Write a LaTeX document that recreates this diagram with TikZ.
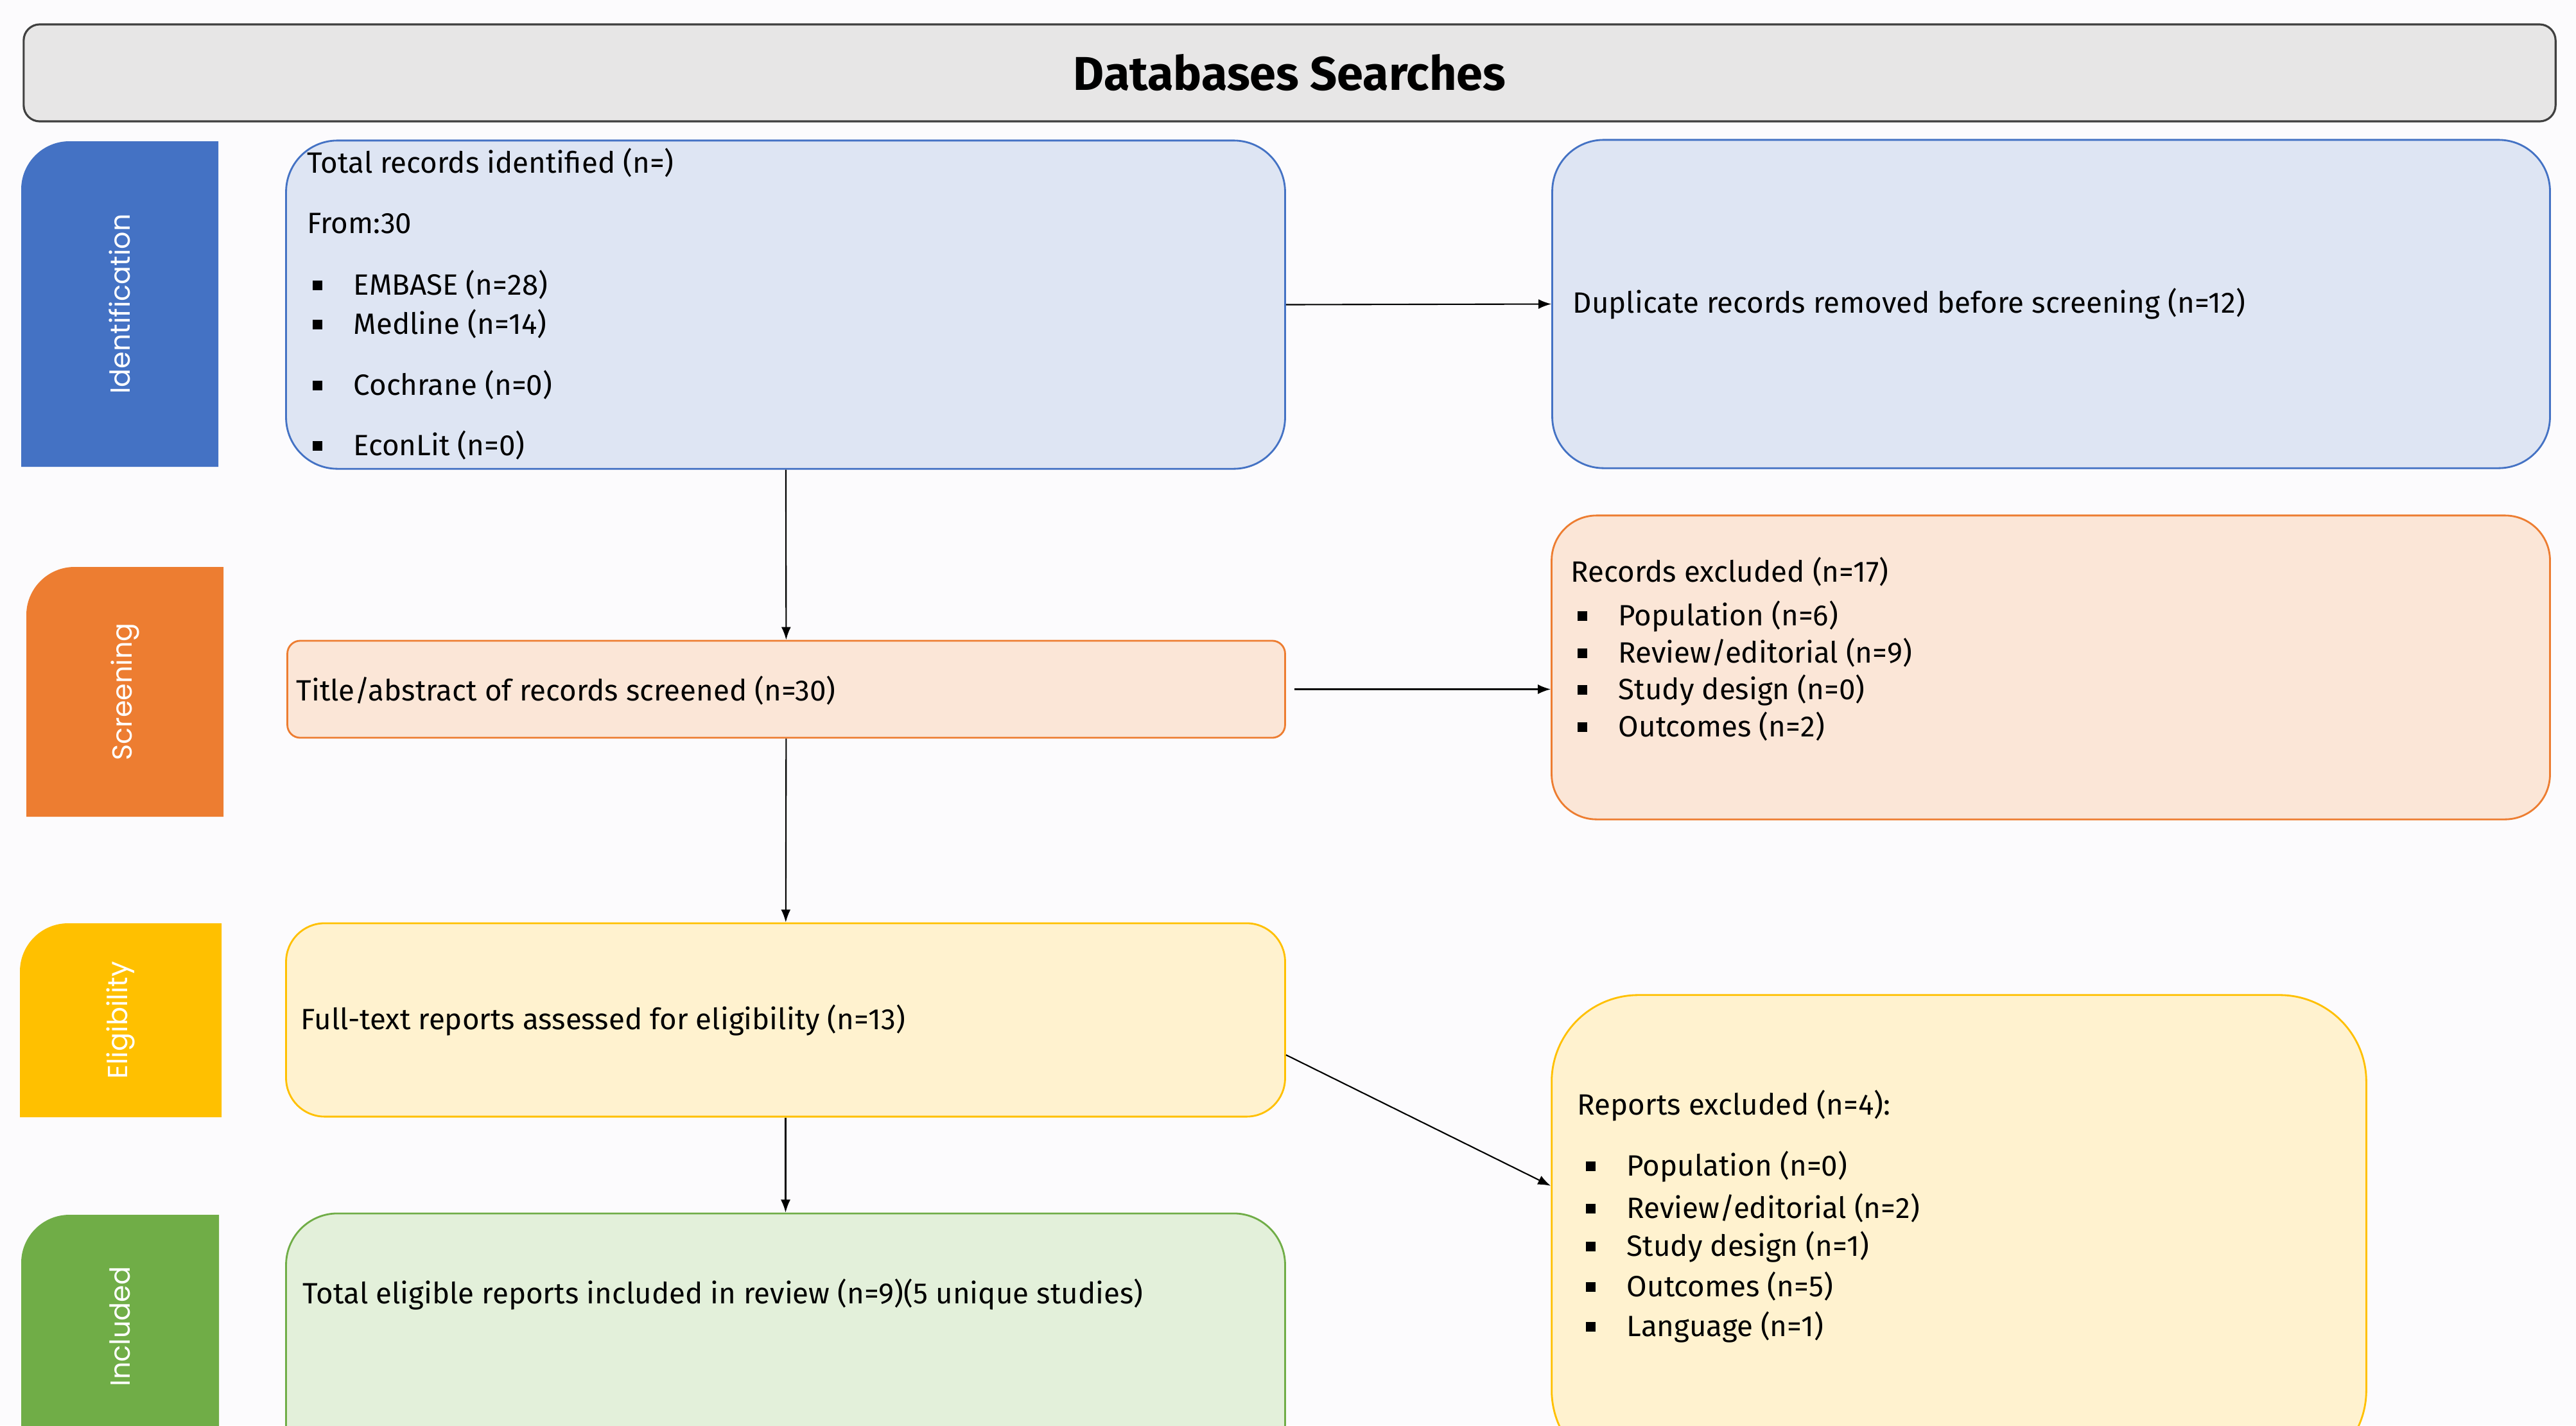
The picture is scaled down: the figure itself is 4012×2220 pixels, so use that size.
\documentclass[tikz,border=0pt]{standalone}
\usepackage{fontspec}
\setmainfont{Fira Sans}
\newfontfamily\sidefont{Poppins}
\usetikzlibrary{arrows.meta}

\definecolor{pagebg}{HTML}{FCFBFD}
\definecolor{titlefill}{HTML}{E7E6E6}
\definecolor{titledraw}{HTML}{404040}
\definecolor{idblue}{HTML}{4472C4}
\definecolor{idfill}{HTML}{DEE5F3}
\definecolor{scorange}{HTML}{ED7D31}
\definecolor{scfill}{HTML}{FBE6D7}
\definecolor{elgold}{HTML}{FFC000}
\definecolor{elfill}{HTML}{FFF2CF}
\definecolor{ingreen}{HTML}{70AD47}
\definecolor{infill}{HTML}{E3F0DA}

\newcommand{\sqitem}[1]{\rule[0.3ex]{0.15cm}{0.15cm}\hspace{0.49cm}#1}

\tikzset{
  every box/.style={draw, line width=0.8pt, inner sep=0pt},
  box id/.style={every box, draw=idblue, fill=idfill},
  box sc/.style={every box, draw=scorange, fill=scfill},
  box el/.style={every box, draw=elgold, fill=elfill},
  box in/.style={every box, draw=ingreen, fill=infill},
  row text/.style={anchor=west, inner sep=0pt, font=\fontsize{13}{15}\selectfont},
  side text/.style={rotate=90, text=white, font=\sidefont\fontsize{12.2}{14}\selectfont},
}

\begin{document}
\begin{tikzpicture}[x=0.01cm, y=-0.01cm, >={Latex[length=0.2cm, width=0.15cm]}]

\useasboundingbox (0,0) rectangle (4012,2220);
\clip (0,0) rectangle (4012,2220);
\fill [pagebg] (0,0) rectangle (4012,2220);

% header
\node [draw=titledraw, fill=titlefill, line width=0.9pt, rounded corners=0.25cm,
  minimum width=39.41cm, minimum height=1.51cm,
  font=\bfseries\fontsize{21}{24}\selectfont] (header) at (2008.5,113.5) {Databases Searches};

% side bars
\foreach \x/\ya/\xb/\yb/\c/\l in {33/220/340/727/idblue/Identification,
    41/883/348/1272/scorange/Screening,
    31/1438/345/1740/elgold/Eligibility,
    33/1892/341/2240/ingreen/Included}
{
  \fill [\c] (\x,\yb) [rounded corners=0.75cm] -- (\x,\ya) [sharp corners] -- (\xb,\ya) -- (\xb,\yb) -- cycle;
  \node [side text] (side-\l) at ({(\x+\xb)/2},{(\ya+\yb)/2}) {\l};
}

% left column
\node [box id, rounded corners=0.8cm, minimum width=15.55cm, minimum height=5.11cm] (ident) at (1223.5,474.5) {};
\node [box sc, rounded corners=0.2cm, minimum width=15.53cm, minimum height=1.51cm] (screen) at (1224.5,1073.5) {};
\node [box el, rounded corners=0.6cm, minimum width=15.55cm, minimum height=3.01cm] (elig) at (1223.5,1588.5) {};
\node [box in, rounded corners=0.8cm, minimum width=15.55cm, minimum height=4.1cm] (incl) at (1223.5,2095) {};

% right column
\node [box id, rounded corners=0.8cm, minimum width=15.53cm, minimum height=5.11cm] (dup) at (3194.5,473.5) {};
\node [box sc, rounded corners=0.7cm, minimum width=15.54cm, minimum height=4.73cm] (recx) at (3194,1039.5) {};
\node [box el, rounded corners=1.35cm, minimum width=12.68cm, minimum height=7.5cm] (repx) at (3051,1925) {};

% identification labeling
\foreach \t/\yy in {{Total records identified (n=)}/253, {From:30}/348}
  \node [row text] at (478,\yy) {\t};
\foreach \t/\yy in {{EMBASE (n=28)}/443, {Medline (n=14)}/504, {Cochrane (n=0)}/599, {EconLit (n=0)}/693}
  \node [row text] at (486,\yy) {\sqitem{\t}};
\node [row text] at (2449,473) {Duplicate records removed before screening (n=12)};

% screening labeling
\node [row text] at (461,1075) {Title/abstract of records screened (n=30)};
\node [row text] at (2446,890) {Records excluded (n=17)};
\foreach \t/\yy in {{Population (n=6)}/960, {Review/editorial (n=9)}/1016, {Study design (n=0)}/1075, {Outcomes (n=2)}/1131}
  \node [row text] at (2456,\yy) {\sqitem{\t}};

% eligibility labeling
\node [row text] at (468,1589) {Full-text reports assessed for eligibility (n=13)};
\node [row text] at (2456,1722) {Reports excluded (n=4):};
\foreach \t/\yy in {{Population (n=0)}/1817, {Review/editorial (n=2)}/1881, {Study design (n=1)}/1942, {Outcomes (n=5)}/2003, {Language (n=1)}/2067}
  \node [row text] at (2469,\yy) {\sqitem{\t}};

% included labeling
\node [row text] at (471,2016) {Total eligible reports included in review (n=9)(5 unique studies)};

% arrows down the left column
\draw [->, line width=0.6pt] (ident) -- (screen);
\draw [->, line width=0.6pt] (screen) -- (elig);
\draw [->, line width=0.6pt] (elig) -- (incl);

% arrows to the exclusion boxes
\draw [->, line width=0.6pt] (ident.east) -- (dup.west);
\draw [->, line width=0.6pt, shorten <=0.13cm] (screen.east) -- (screen.east -| recx.west);
\draw [->, line width=0.6pt] (elig.-4.9) -- (repx.173);

\end{tikzpicture}
\end{document}
